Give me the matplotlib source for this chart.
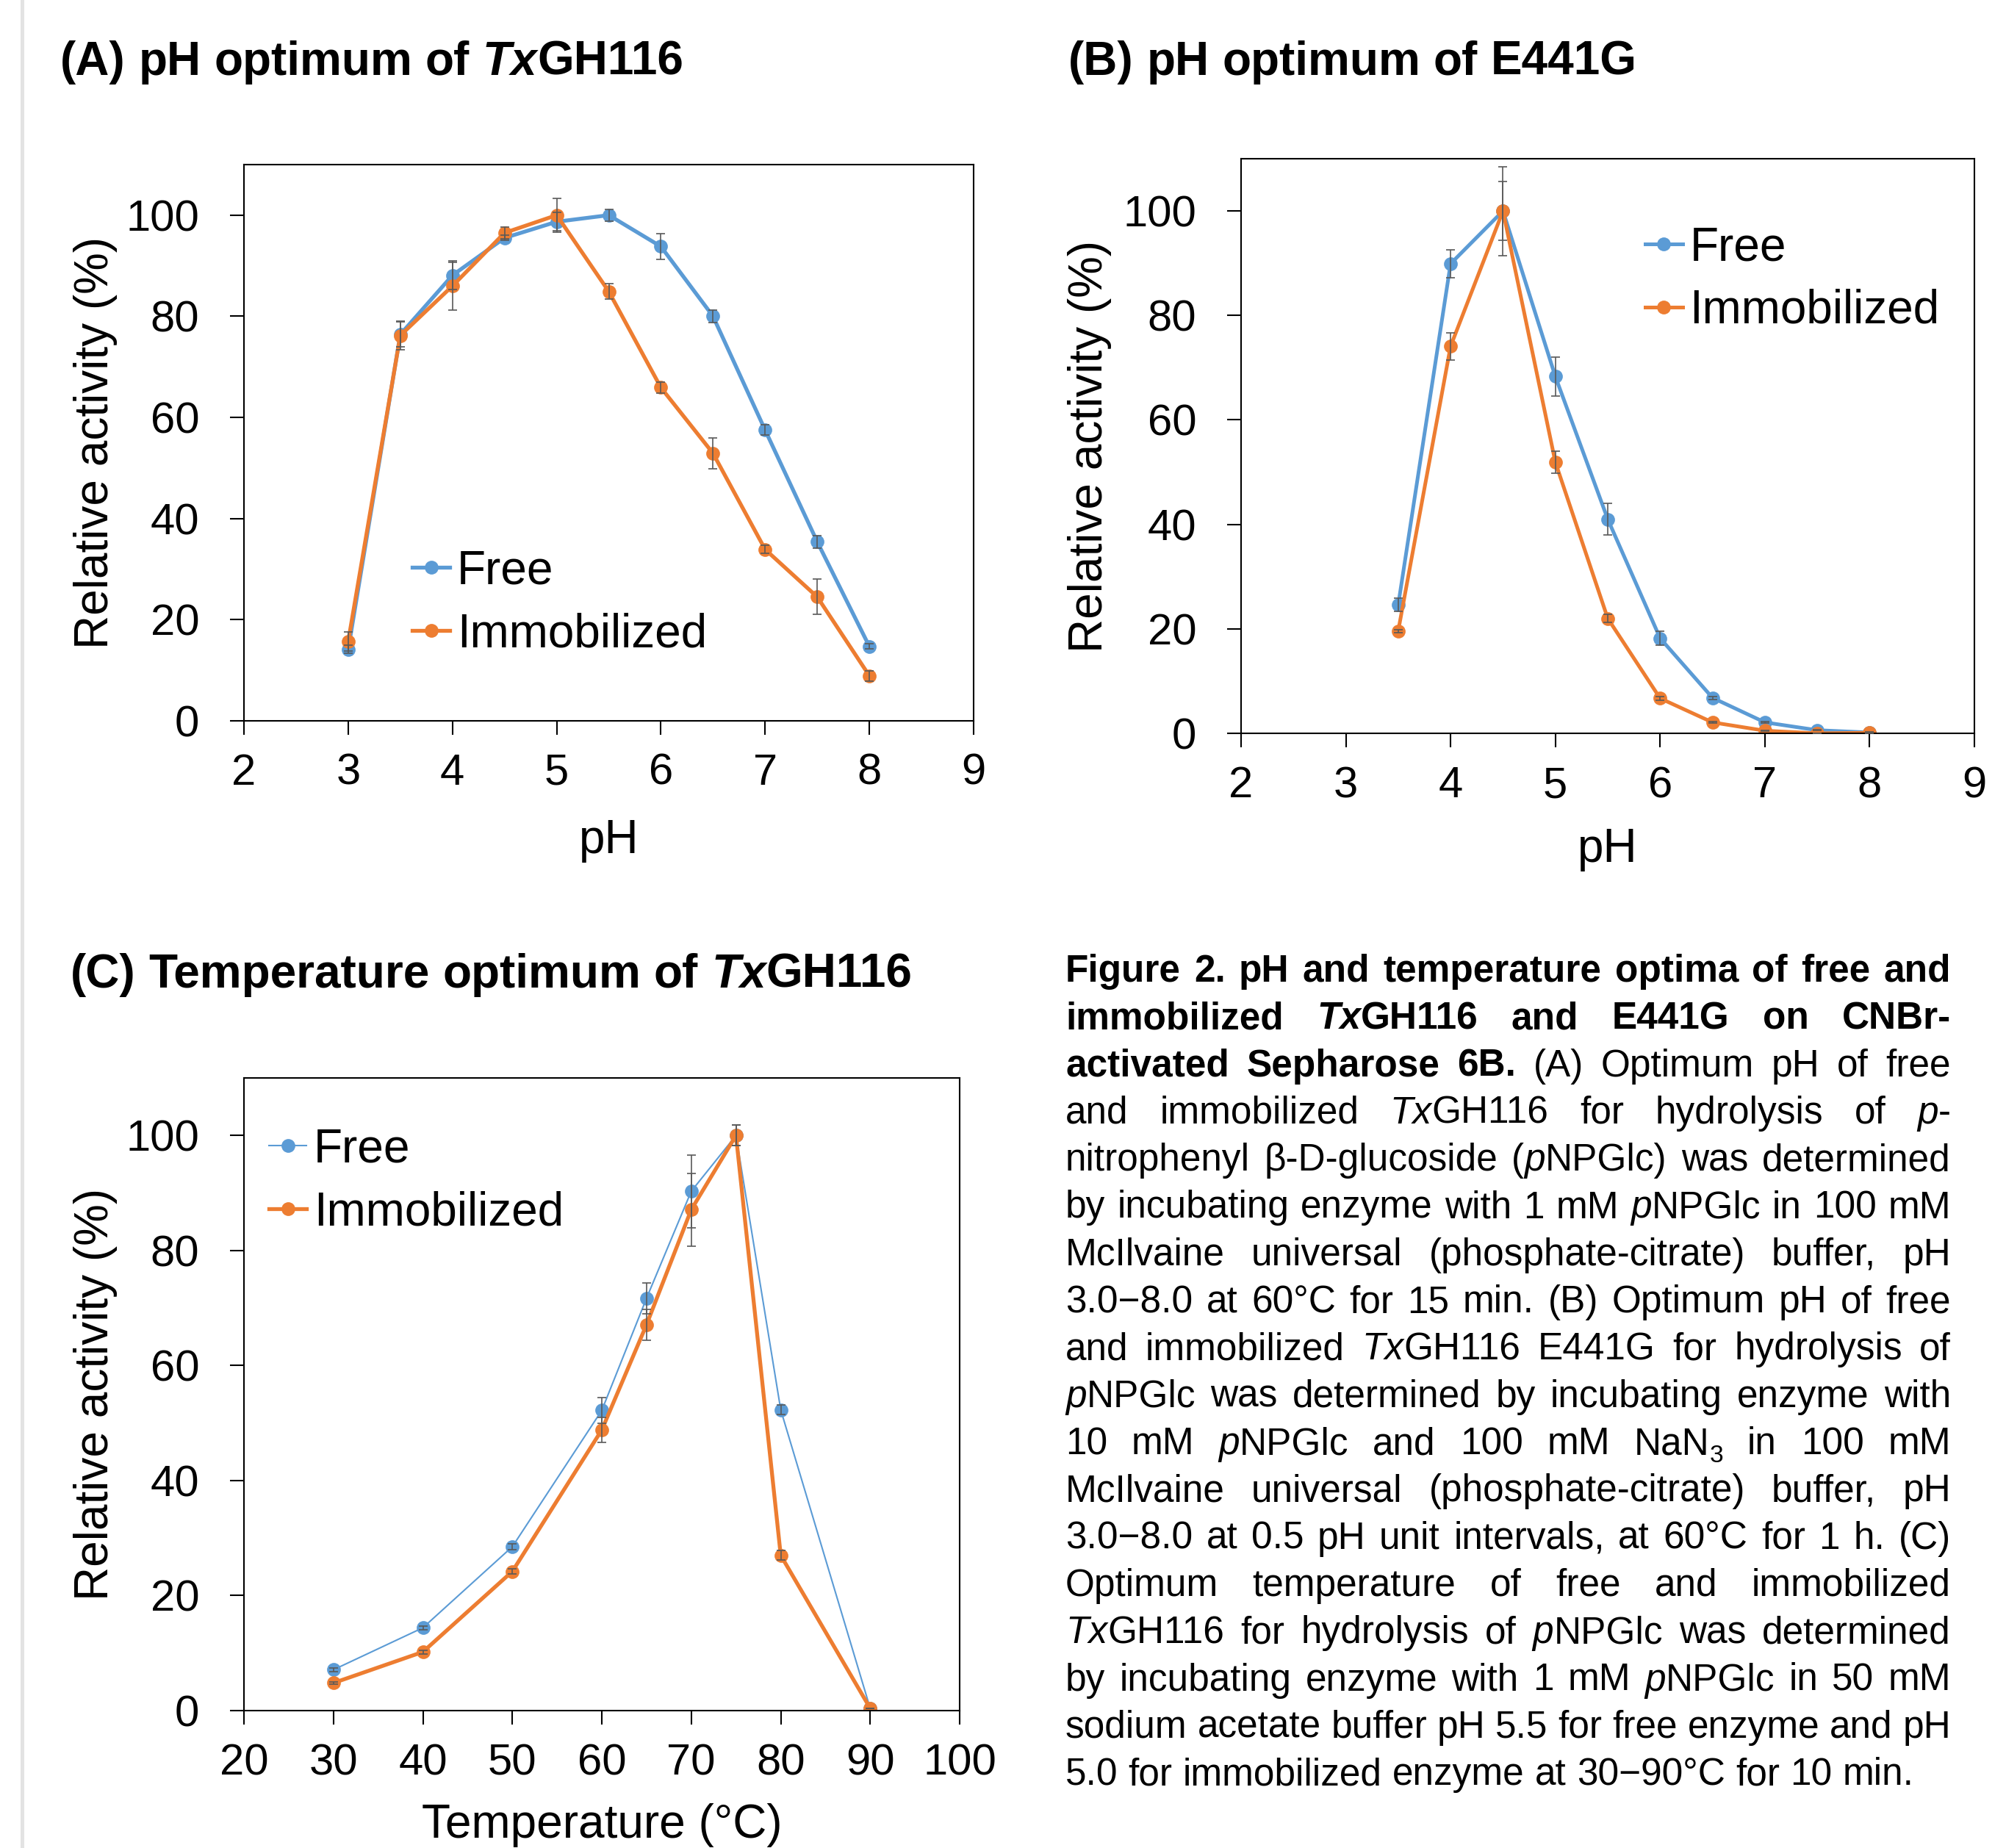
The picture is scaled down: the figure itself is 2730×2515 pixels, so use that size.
import re
import matplotlib
matplotlib.use("Agg")
import matplotlib.pyplot as plt
from matplotlib.lines import Line2D

plt.rcParams['font.family'] = ['Liberation Sans', 'DejaVu Sans']

W, H, DPI = 2730, 2515, 100
PX = 72.0 / DPI  # points per pixel

BLUE = "#5B9BD5"
ORANGE = "#ED7D31"
ERR = "#595959"
MS = 13.5

# (A) pH optimum of TxGH116
ph_a = [3.0, 3.5, 4.0, 4.5, 5.0, 5.5, 6.0, 6.5, 7.0, 7.5, 8.0]
free_a = [14.1, 76.4, 88.1, 95.5, 98.7, 100.0, 93.8, 80.0, 57.5, 35.4, 14.7]
free_a_err = [0.8, 2.5, 2.8, 0.5, 1.8, 1.2, 2.6, 1.3, 1.0, 1.2, 0.5]
immob_a = [15.7, 76.2, 86.0, 96.5, 100.0, 84.9, 65.9, 52.9, 33.9, 24.5, 8.9]
immob_a_err = [1.9, 2.8, 4.7, 1.2, 3.3, 1.5, 1.1, 3.0, 0.8, 3.5, 1.0]

# (B) pH optimum of E441G
ph_b = [3.5, 4.0, 4.5, 5.0, 5.5, 6.0, 6.5, 7.0, 7.5, 8.0]
free_b = [24.6, 89.9, 100.0, 68.3, 41.0, 18.2, 6.8, 2.1, 0.6, 0.15]
free_b_err = [1.3, 2.7, 5.6, 3.7, 3.0, 1.3, 0.3, 0.2, 0.1, 0.1]
immob_b = [19.6, 74.1, 100.0, 51.9, 22.0, 6.7, 2.1, 0.5, 0.0, 0.1]
immob_b_err = [0.3, 2.6, 8.5, 2.1, 0.8, 0.3, 0.2, 0.1, 0.0, 0.0]

# (C) Temperature optimum of TxGH116
temp_c = [30, 40, 50, 60, 65, 70, 75, 80, 90]
free_c = [7.1, 14.4, 28.5, 52.2, 71.7, 90.3, 100.0, 52.3, 0.4]
free_c_err = [0.3, 0.3, 0.5, 2.2, 2.7, 6.3, 1.8, 0.8, 0.0]
immob_c = [4.8, 10.2, 24.2, 48.8, 67.1, 87.1, 100.0, 27.0, 0.4]
immob_c_err = [0.2, 0.3, 0.5, 2.2, 2.7, 6.3, 1.8, 0.8, 0.0]

ph_ticks = [2, 3, 4, 5, 6, 7, 8, 9]
temp_ticks = [20, 30, 40, 50, 60, 70, 80, 90, 100]
y_ticks = [0, 20, 40, 60, 80, 100]

# [b] bold, [i] italic, [bi] bold italic, [r] regular, [s] subscript
TITLE_A = "[b](A) pH optimum of [bi]Tx[b]GH116"
TITLE_B = "[b](B) pH optimum of E441G"
TITLE_C = "[b](C) Temperature optimum of [bi]Tx[b]GH116"

CAPTION = [
    "[b]Figure 2. pH and temperature optima of free and",
    "[b]immobilized [bi]Tx[b]GH116 and E441G on CNBr-",
    "[b]activated Sepharose 6B.[r] (A) Optimum pH of free",
    "[r]and immobilized [i]Tx[r]GH116 for hydrolysis of [i]p[r]-",
    "[r]nitrophenyl β-D-glucoside ([i]p[r]NPGlc) was determined",
    "[r]by incubating enzyme with 1 mM [i]p[r]NPGlc in 100 mM",
    "[r]McIlvaine universal (phosphate-citrate) buffer, pH",
    "[r]3.0\u22128.0 at 60°C for 15 min. (B) Optimum pH of free",
    "[r]and immobilized [i]Tx[r]GH116 E441G for hydrolysis of",
    "[i]p[r]NPGlc was determined by incubating enzyme with",
    "[r]10 mM [i]p[r]NPGlc and 100 mM NaN[s]3[r] in 100 mM",
    "[r]McIlvaine universal (phosphate-citrate) buffer, pH",
    "[r]3.0\u22128.0 at 0.5 pH unit intervals, at 60°C for 1 h. (C)",
    "[r]Optimum temperature of free and immobilized",
    "[i]Tx[r]GH116 for hydrolysis of [i]p[r]NPGlc was determined",
    "[r]by incubating enzyme with 1 mM [i]p[r]NPGlc in 50 mM",
    "[r]sodium acetate buffer pH 5.5 for free enzyme and pH",
    "[r]5.0 for immobilized enzyme at 30\u221290°C for 10 min.",
]

STYLES = {
    'r': ('normal', 'normal'),
    'b': ('bold', 'normal'),
    'i': ('normal', 'italic'),
    'bi': ('bold', 'italic'),
    's': ('normal', 'normal'),
}


def parse_words(line):
    words, cur, style = [], [], 'r'
    for tok in re.split(r'(\[\w+\])', line):
        if not tok:
            continue
        if tok.startswith('[') and tok.endswith(']'):
            style = tok[1:-1]
            continue
        parts = tok.split(' ')
        for j, p in enumerate(parts):
            if j > 0:
                if cur:
                    words.append(cur)
                cur = []
            if p:
                cur.append((p, style))
    if cur:
        words.append(cur)
    return words


def make_word(fig, renderer, word, size):
    # returns list of (text artist, x offset px, y offset px) and total width
    items = []
    x = 0.0
    for s, style in word:
        weight, fstyle = STYLES[style]
        fs = size * 0.65 if style == 's' else size
        dy = size / PX * 0.22 if style == 's' else 0.0
        t = fig.text(0, 0, s, fontsize=fs, fontweight=weight, fontstyle=fstyle,
                     ha='left', va='baseline')
        w = t.get_window_extent(renderer).width
        items.append((t, x, dy))
        x += w
    return items, x


def place(items, x0, y0):
    for t, dx, dy in items:
        t.set_position(((x0 + dx) / W, 1 - (y0 + dy) / H))


def space_width(fig, renderer, size, weight='normal'):
    t1 = fig.text(0, 0, "a a", fontsize=size, fontweight=weight)
    t2 = fig.text(0, 0, "aa", fontsize=size, fontweight=weight)
    sw = t1.get_window_extent(renderer).width - t2.get_window_extent(renderer).width
    t1.remove()
    t2.remove()
    return sw


def draw_rich(fig, renderer, line, x0, y0, size, right=None):
    words = parse_words(line)
    built = [make_word(fig, renderer, w, size) for w in words]
    total = sum(w for _, w in built)
    if right is not None and len(built) > 1:
        gap = (right - x0 - total) / (len(built) - 1)
    else:
        gap = space_width(fig, renderer, size, STYLES[words[0][0][1]][0])
    x = x0
    for items, w in built:
        place(items, x, y0)
        x += w + gap


def style_axes(ax, xlim, xticks, ylabel_x, xlabel, xlabel_y, xpad):
    ax.set_xlim(*xlim)
    ax.set_ylim(0, 110)
    ax.set_xticks(xticks)
    ax.set_yticks(y_ticks)
    for sp in ax.spines.values():
        sp.set_linewidth(1.5)
    ax.tick_params(direction='out', length=19 * PX, width=1.5, labelsize=43,
                   top=False, right=False)
    ax.tick_params(axis='y', pad=30)
    ax.tick_params(axis='x', pad=xpad)
    ax.set_ylabel("Relative activity (%)", fontsize=46, va='center')
    ax.yaxis.set_label_coords(ylabel_x, 0.5)
    ax.set_xlabel(xlabel, fontsize=46, va='center')
    ax.xaxis.set_label_coords(0.5, xlabel_y)


def draw_series(ax, x, y, err, color, lw):
    ax.errorbar(x, y, yerr=err, fmt='none', ecolor=ERR, elinewidth=1.2,
                capsize=4.3, capthick=1.2, zorder=3)
    ax.plot(x, y, color=color, lw=lw, marker='o', markersize=MS,
            markeredgewidth=0, zorder=2)


def add_legend(ax, x, y, lws):
    handles = [Line2D([], [], color=BLUE, lw=lws[0], marker='o', markersize=MS, markeredgewidth=0),
               Line2D([], [], color=ORANGE, lw=lws[1], marker='o', markersize=MS, markeredgewidth=0)]
    ax.legend(handles, ["Free", "Immobilized"], loc='center left', bbox_to_anchor=(x, y),
              frameon=False, fontsize=46, handlelength=0.8, handletextpad=0.15,
              labelspacing=0.4, borderpad=0, borderaxespad=0)


def axes_rect(left, right, top, bottom):
    return [left / W, 1 - bottom / H, (right - left) / W, (bottom - top) / H]


def main():
    fig = plt.figure(figsize=(W / DPI, H / DPI), dpi=DPI)
    renderer = fig.canvas.get_renderer()

    fig.add_artist(Line2D([30 / W, 30 / W], [0, 1], color='#e3e3e3', lw=5 * PX))

    ax_a = fig.add_axes(axes_rect(332, 1325, 224, 981))
    draw_series(ax_a, ph_a, free_a, free_a_err, BLUE, 3.8)
    draw_series(ax_a, ph_a, immob_a, immob_a_err, ORANGE, 3.8)
    style_axes(ax_a, (2, 9), ph_ticks, -0.203, "pH", -0.215, 18)
    add_legend(ax_a, 0.231, 0.212, (3.8, 3.8))

    ax_b = fig.add_axes(axes_rect(1689, 2687, 216, 998))
    draw_series(ax_b, ph_b, free_b, free_b_err, BLUE, 3.6)
    draw_series(ax_b, ph_b, immob_b, immob_b_err, ORANGE, 3.6)
    style_axes(ax_b, (2, 9), ph_ticks, -0.206, "pH", -0.202, 18)
    add_legend(ax_b, 0.551, 0.790, (3.6, 3.6))

    ax_c = fig.add_axes(axes_rect(332, 1306, 1467, 2328))
    draw_series(ax_c, temp_c, free_c, free_c_err, BLUE, 1.5)
    draw_series(ax_c, temp_c, immob_c, immob_c_err, ORANGE, 3.8)
    style_axes(ax_c, (20, 100), temp_ticks, -0.207, "Temperature (°C)", -0.181, 18)
    add_legend(ax_c, 0.035, 0.837, (1.5, 3.8))

    draw_rich(fig, renderer, TITLE_A, 82, 102, 46)
    draw_rich(fig, renderer, TITLE_B, 1454, 102, 46)
    draw_rich(fig, renderer, TITLE_C, 96, 1344, 46)

    base = 1336
    step = 64.3
    for i, line in enumerate(CAPTION):
        right = 2655 if i < len(CAPTION) - 1 else None
        draw_rich(fig, renderer, line, 1450, base + i * step, 37, right=right)

    fig.savefig("out.png", dpi=DPI, facecolor='white')


if __name__ == '__main__':
    main()
